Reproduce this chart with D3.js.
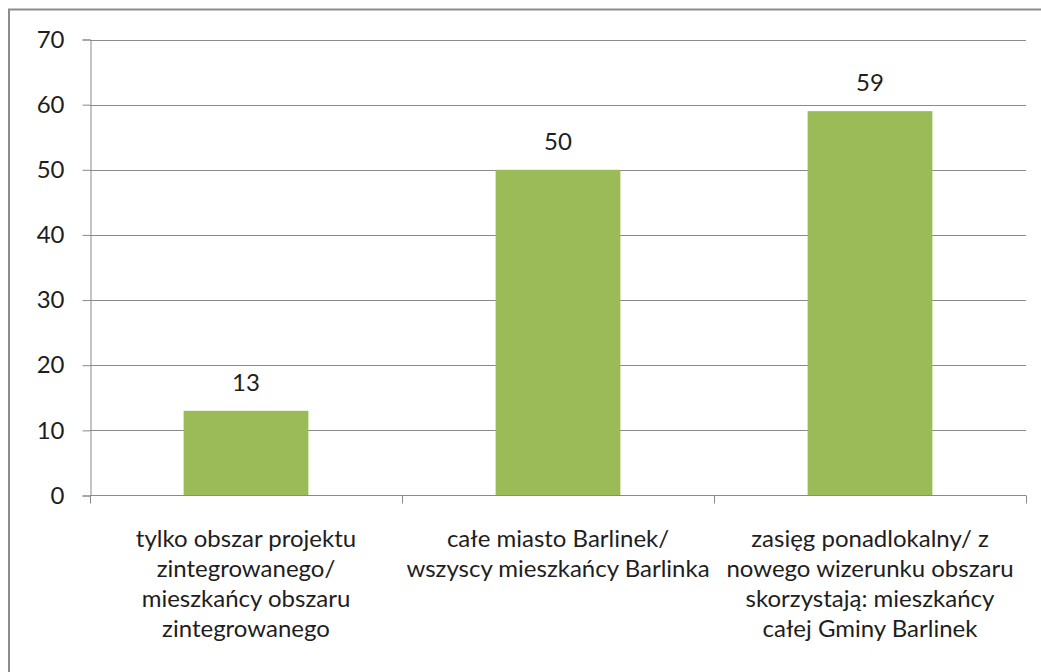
<!DOCTYPE html>
<html>
<head>
<meta charset="utf-8">
<script src="https://cdn.jsdelivr.net/npm/d3@7"></script>
<style>
  html, body { margin: 0; padding: 0; background: #fff; }
  svg { display: block; }
</style>
</head>
<body>
<svg id="chart" width="1041" height="672"></svg>
<script>
// Zasięg oddziaływania projektu – liczba wskazań
const categories = [
  "tylko obszar projektu|zintegrowanego/|mieszkańcy obszaru|zintegrowanego",
  "całe miasto Barlinek/|wszyscy mieszkańcy Barlinka",
  "zasięg ponadlokalny/ z|nowego wizerunku obszaru|skorzystają: mieszkańcy|całej Gminy Barlinek"
];
const values = [13, 50, 59];
const yTicks = [0, 10, 20, 30, 40, 50, 60, 70];

const svg = d3.select("#chart");
const W = 1041, H = 672;
const font = "Lato, 'Open Sans', sans-serif";
const fontSize = 24;
const textColor = "#1e1e1e";
const gridColor = "#8a8a8a";

// outer frame of the chart object (extends past the right and bottom edges)
svg.append("rect")
  .attr("x", 9).attr("y", 9.5)
  .attr("width", W + 20).attr("height", H + 20)
  .attr("fill", "#fff")
  .attr("stroke", "#8c8c8c").attr("stroke-width", 2);

const plot = { left: 90, right: 1026, top: 39.5, bottom: 495.5 };

const x = d3.scaleBand()
  .domain(d3.range(categories.length))
  .range([plot.left, plot.right])
  .paddingInner(0.6).paddingOuter(0.3);

const y = d3.scaleLinear().domain([0, 70]).range([plot.bottom, plot.top]);

// horizontal gridlines
svg.append("g")
  .selectAll("line")
  .data(yTicks.filter(d => d > 0))
  .join("line")
  .attr("x1", plot.left).attr("x2", plot.right)
  .attr("y1", d => Math.round(y(d)) + 0.5).attr("y2", d => Math.round(y(d)) + 0.5)
  .attr("stroke", gridColor).attr("stroke-width", 1);

// y axis
const yAxis = svg.append("g")
  .attr("transform", `translate(${plot.left + 0.5},0)`)
  .call(d3.axisLeft(y).tickValues(yTicks).tickSize(8).tickPadding(18).tickFormat(d3.format("d")));
yAxis.select(".domain").attr("stroke", gridColor);
yAxis.selectAll(".tick line").attr("stroke", gridColor);
yAxis.selectAll(".tick text")
  .attr("font-family", font).attr("font-size", fontSize).attr("fill", textColor);

// bars
svg.append("g")
  .selectAll("rect")
  .data(values)
  .join("rect")
  .attr("x", (d, i) => x(i))
  .attr("y", d => y(d))
  .attr("width", x.bandwidth())
  .attr("height", d => y(0) - y(d))
  .attr("fill", "#9bbb59");

// value labels
svg.append("g")
  .selectAll("text")
  .data(values)
  .join("text")
  .attr("x", (d, i) => x(i) + x.bandwidth() / 2)
  .attr("y", d => y(d) - 20)
  .attr("text-anchor", "middle")
  .attr("font-family", font).attr("font-size", fontSize).attr("fill", textColor)
  .text(d => d);

// x axis with boundary ticks between categories
const step = (plot.right - plot.left) / categories.length;
const xb = svg.append("g");
xb.append("line")
  .attr("x1", plot.left).attr("x2", plot.right)
  .attr("y1", plot.bottom).attr("y2", plot.bottom)
  .attr("stroke", gridColor);
xb.selectAll("line.tk")
  .data(d3.range(categories.length + 1))
  .join("line").attr("class", "tk")
  .attr("x1", i => Math.round(plot.left + i * step) + 0.5)
  .attr("x2", i => Math.round(plot.left + i * step) + 0.5)
  .attr("y1", plot.bottom).attr("y2", plot.bottom + 8)
  .attr("stroke", gridColor);

// category labels, wrapped over several lines
const lab = svg.append("g")
  .selectAll("text")
  .data(categories)
  .join("text")
  .attr("text-anchor", "middle")
  .attr("font-family", font).attr("font-size", fontSize).attr("fill", textColor);
lab.each(function(d, i) {
  const cx = x(i) + x.bandwidth() / 2;
  d3.select(this).selectAll("tspan")
    .data(d.split("|"))
    .join("tspan")
    .attr("x", cx)
    .attr("y", (t, k) => 547 + k * 30)
    .text(t => t);
});
</script>
</body>
</html>
